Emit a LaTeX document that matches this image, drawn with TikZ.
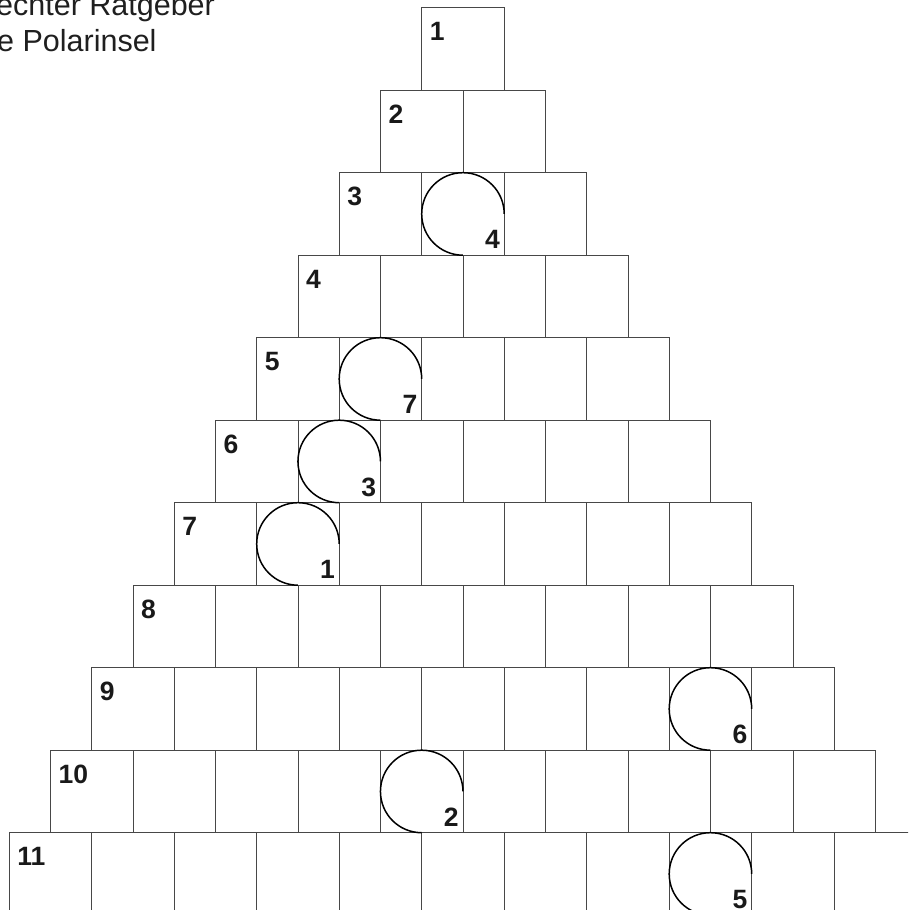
\documentclass[tikz,border=0pt]{standalone}
\usepackage{fontspec}
\setmainfont{Liberation Sans}
\begin{document}
\begin{tikzpicture}[x=1pt, y=1pt,
  cell/.style={draw=black!72, line width=0.9pt},
  ringarc/.style={draw=black, line width=1.5pt},
  rownum/.style={anchor=north west, inner sep=0pt, font=\fontsize{26.5}{26.5}\selectfont\bfseries, text=black!90},
  tag/.style={anchor=base east, inner sep=0pt, font=\fontsize{26.5}{26.5}\selectfont\bfseries, text=black!90},
  title/.style={anchor=base west, inner sep=0pt, font=\fontsize{30.5}{30.5}\selectfont, text=black!88}]
  \useasboundingbox (0,0) rectangle (908,910);
  \clip (0,0) rectangle (908,910);
  % 제목
  \node[title] (t1) at (-4,894) {echter Ratgeber};
  \node[title] (t2) at (-3,858.5) {e Polarinsel};
  % 칸과 줄 번호
  \foreach \r in {1,...,11} {
    \pgfmathsetmacro\rowtop{902.3-(\r-1)*82.5}
    \pgfmathsetmacro\rowleft{421.7-(\r-1)*41.25}
    \foreach \k in {1,...,\r}
      \draw[cell] ({\rowleft+(\k-1)*82.5},\rowtop) rectangle ++(82.5,-82.5);
    \node[rownum] (n\r) at ({\rowleft+8},{\rowtop-14.5}) {\r};
  }
  % 원호와 글자 번호
  \foreach \r/\k/\lab in {3/2/4, 5/2/7, 6/2/3, 7/2/1, 9/8/6, 10/5/2, 11/9/5} {
    \pgfmathsetmacro\cx{421.7-(\r-1)*41.25+(\k-0.5)*82.5}
    \pgfmathsetmacro\cy{902.3-(\r-0.5)*82.5}
    \draw[ringarc] ({\cx+41.25},\cy) arc(0:270:41.25);
    \node[tag] (c\lab) at ({\cx+37},{\cy-34.75}) {\lab};
  }
\end{tikzpicture}
\end{document}
